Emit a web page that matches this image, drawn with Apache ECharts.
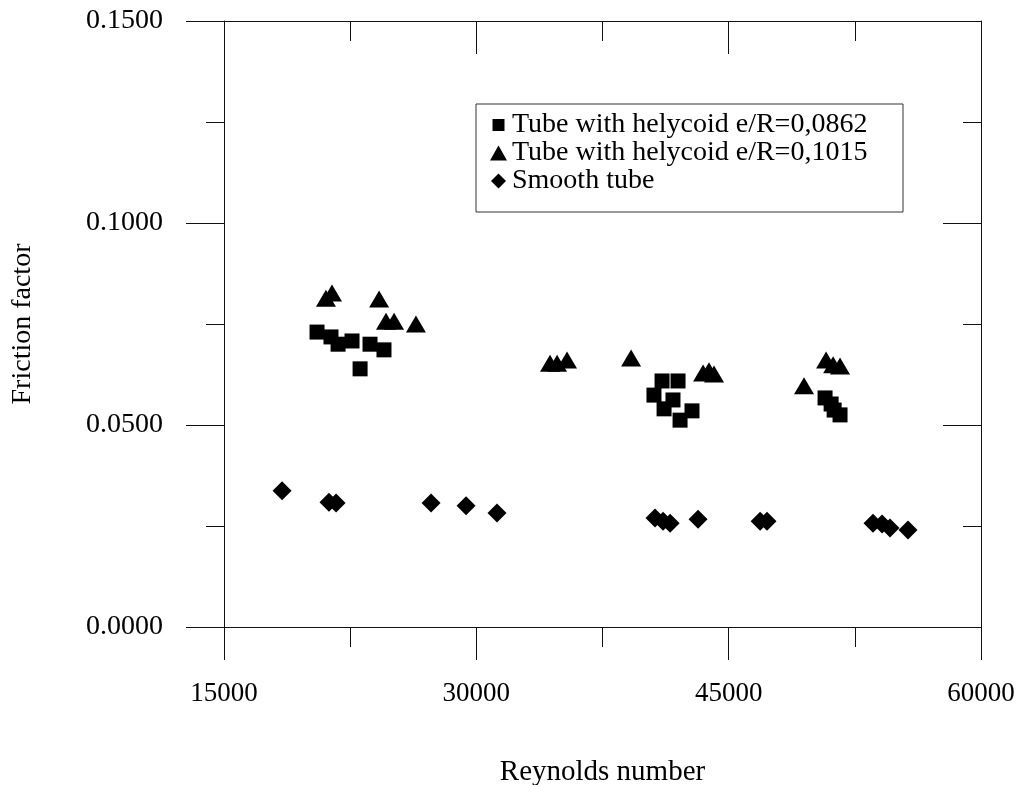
<!DOCTYPE html>
<html>
<head>
<meta charset="utf-8">
<script src="https://cdn.jsdelivr.net/npm/echarts@6/dist/echarts.min.js"></script>
<style>html,body{margin:0;padding:0;background:#fff;}#c{width:1018px;height:785px;}</style>
</head>
<body>
<div id="c"></div>
<script>
// Data
var seriesNames = ['Tube with helycoid e/R=0,0862', 'Tube with helycoid e/R=0,1015', 'Smooth tube'];
var squareRe = [20530, 21360, 21780, 22610, 23680, 24510, 23090, 40560, 41040, 41990, 41690, 41160, 42110, 42820, 50730, 51090, 51270, 51620];
var squareF  = [0.0730, 0.0718, 0.0700, 0.0708, 0.0700, 0.0686, 0.0639, 0.0574, 0.0609, 0.0609, 0.0562, 0.0540, 0.0512, 0.0535, 0.0567, 0.0552, 0.0537, 0.0525];
var triRe = [21060, 21420, 24220, 24630, 25110, 26410, 34380, 34800, 35390, 39200, 43480, 43830, 44130, 49480, 50790, 51210, 51620];
var triF  = [0.0814, 0.0827, 0.0812, 0.0757, 0.0757, 0.0750, 0.0653, 0.0653, 0.0661, 0.0666, 0.0629, 0.0634, 0.0626, 0.0597, 0.0661, 0.0649, 0.0646];
var diaRe = [18450, 21240, 21660, 27310, 29390, 31230, 40620, 41100, 41520, 43180, 46870, 47280, 53580, 54120, 54590, 55660];
var diaF  = [0.0337, 0.0309, 0.0307, 0.0307, 0.0300, 0.0282, 0.0270, 0.0262, 0.0257, 0.0267, 0.0262, 0.0262, 0.0257, 0.0255, 0.0245, 0.0240];
var xTicks = [15000, 30000, 45000, 60000];
var yTicks = [0, 0.05, 0.10, 0.15];

function pairs(xs, ys) { return xs.map(function (x, i) { return [x, ys[i]]; }); }

var FONT = '"Liberation Serif", "Times New Roman", serif';
var lineStyle = { color: '#111', width: 1 };

var chart = echarts.init(document.getElementById('c'), null, { renderer: 'canvas' });
var xBase = {
  type: 'value', min: xTicks[0], max: xTicks[xTicks.length - 1], interval: 15000,
  splitLine: { show: false },
  axisLine: { show: true, lineStyle: lineStyle, onZero: false },
  minorTick: { show: true, splitNumber: 2, length: 20, lineStyle: lineStyle },
  minorSplitLine: { show: false }
};
var yBase = {
  type: 'value', min: yTicks[0], max: yTicks[yTicks.length - 1], interval: 0.05,
  splitLine: { show: false },
  axisLine: { show: true, lineStyle: lineStyle, onZero: false },
  minorTick: { show: true, splitNumber: 2, length: 18, lineStyle: lineStyle },
  minorSplitLine: { show: false }
};

chart.setOption({
  backgroundColor: '#fff',
  animation: false,
  grid: { left: 224, right: 37, top: 21, bottom: 158, containLabel: false, outerBoundsMode: 'none' },
  xAxis: [
    Object.assign({}, xBase, {
      position: 'bottom',
      axisTick: { show: true, inside: false, length: 33, lineStyle: lineStyle },
      axisLabel: { show: true, margin: 53, fontSize: 27, fontFamily: FONT, color: '#000',
        formatter: function (v) { return String(v); } },
      name: 'Reynolds number', nameLocation: 'middle', nameGap: 131,
      nameTextStyle: { fontSize: 29, fontFamily: FONT, color: '#000' }
    }),
    Object.assign({}, xBase, {
      position: 'top',
      axisTick: { show: true, inside: true, length: 33, lineStyle: lineStyle },
      minorTick: { show: true, splitNumber: 2, length: 20, lineStyle: lineStyle },
      axisLabel: { show: false }
    })
  ],
  yAxis: [
    Object.assign({}, yBase, {
      position: 'left',
      axisTick: { show: true, inside: false, length: 38, lineStyle: lineStyle },
      axisLabel: { show: true, margin: 61, fontSize: 28, fontFamily: FONT, color: '#000',
        formatter: function (v) { return v.toFixed(4); } },
      name: 'Friction factor', nameLocation: 'middle', nameGap: 187, nameRotate: 90,
      nameTextStyle: { fontSize: 28, fontFamily: FONT, color: '#000' }
    }),
    Object.assign({}, yBase, {
      position: 'right',
      axisTick: { show: true, inside: true, length: 38, lineStyle: lineStyle },
      minorTick: { show: true, splitNumber: 2, length: 18, lineStyle: lineStyle },
      axisLabel: { show: false }
    })
  ],
  legend: {
    orient: 'vertical', left: 476, top: 104,
    padding: [7, 11, 17, 14],
    itemGap: 0, itemWidth: 17, itemHeight: 15,
    borderColor: '#333', borderWidth: 1,
    textStyle: { fontSize: 28, fontFamily: FONT, color: '#000', lineHeight: 28, width: 380 },
    data: [
      { name: seriesNames[0], icon: 'path://M0,0M1.5,1.5L13.5,1.5L13.5,13.5L1.5,13.5ZM15,15' },
      { name: seriesNames[1], icon: 'path://M8.5,0L17,15L0,15Z' },
      { name: seriesNames[2], icon: 'path://M8.5,0L17,8.5L8.5,17L0,8.5Z' }
    ]
  },
  series: [
    { name: seriesNames[0], type: 'scatter', symbol: 'rect', symbolSize: 15,
      itemStyle: { color: '#000', opacity: 1 }, data: pairs(squareRe, squareF) },
    { name: seriesNames[1], type: 'scatter', symbol: 'triangle', symbolSize: [20, 17],
      itemStyle: { color: '#000', opacity: 1 }, data: pairs(triRe, triF) },
    { name: seriesNames[2], type: 'scatter', symbol: 'diamond', symbolSize: [19, 19],
      itemStyle: { color: '#000', opacity: 1 }, data: pairs(diaRe, diaF) }
  ]
});
</script>
</body>
</html>
